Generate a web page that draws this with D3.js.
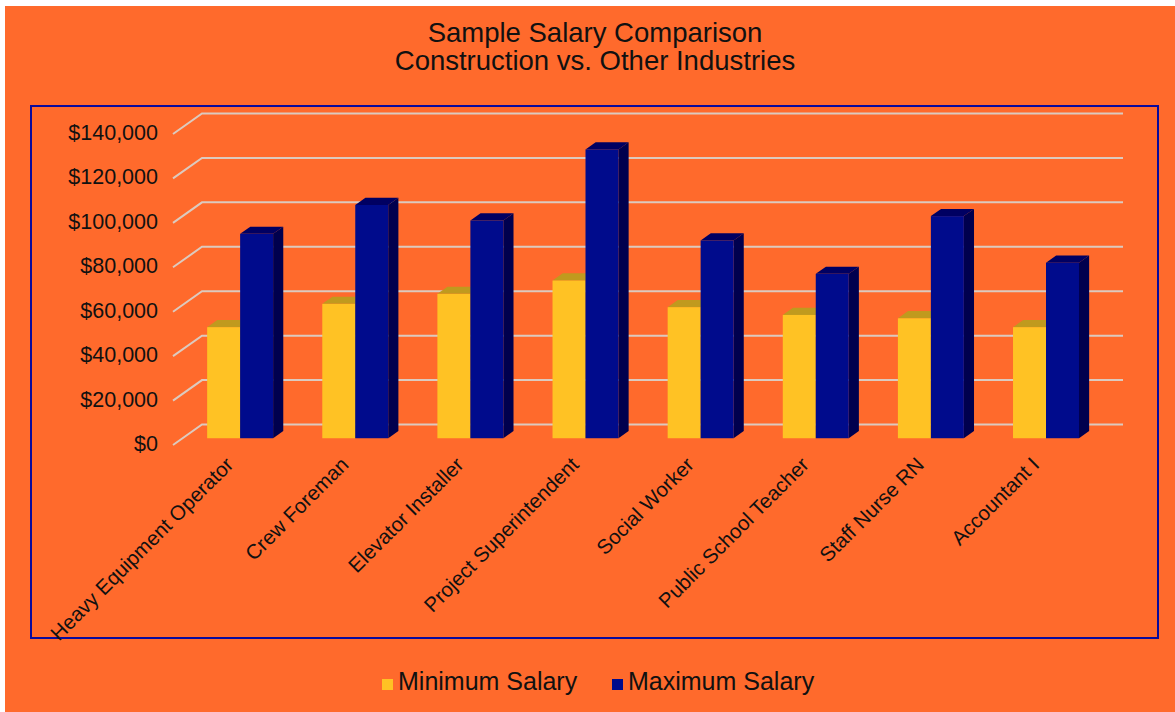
<!DOCTYPE html>
<html>
<head>
<meta charset="utf-8">
<script src="https://cdn.jsdelivr.net/npm/d3@7"></script>
<style>
  html, body { margin: 0; padding: 0; background: #fff; }
  svg { display: block; font-family: "Liberation Sans", Arial, sans-serif; }
</style>
</head>
<body>
<svg id="chart"></svg>
<script>
const categories = ["Heavy Equipment Operator", "Crew Foreman", "Elevator Installer", "Project Superintendent",
  "Social Worker", "Public School Teacher", "Staff Nurse RN", "Accountant I"];
const seriesNames = ["Minimum Salary", "Maximum Salary"];
const minSalary = [50000, 60500, 65000, 71000, 59000, 55500, 54000, 50000];
const maxSalary = [92000, 105000, 98000, 130000, 89000, 74000, 100000, 79000];
const yTicks = [0, 20000, 40000, 60000, 80000, 100000, 120000, 140000];
const titleLines = ["Sample Salary Comparison", "Construction vs. Other Industries"];

const W = 1175, H = 712;
const colors = {
  front: ["#ffc224", "#000b8c"],
  top:   ["#c09a1e", "#000062"],
  side:  ["#b08a10", "#00004e"]
};

const svg = d3.select("#chart").attr("width", W).attr("height", H);

// orange card with thin white edge on top/left
svg.append("rect").attr("x", 5).attr("y", 6).attr("width", W - 5).attr("height", H - 6).attr("fill", "#ff6a2c");

// plot frame
svg.append("rect").attr("x", 31).attr("y", 106).attr("width", 1127).attr("height", 532)
  .attr("fill", "none").attr("stroke", "#0a0a9c").attr("stroke-width", 2);

// title
svg.append("g").selectAll("text").data(titleLines).join("text")
  .attr("x", 595).attr("y", (d, i) => 42 + i * 28)
  .attr("text-anchor", "middle").attr("font-size", 27.5).attr("fill", "#111")
  .text(d => d);

// oblique 3D: depth 0 = front floor edge, depth 1 = back wall
const depth = { dx: 29, dy: -20.5 };
const off = d => [depth.dx * d, depth.dy * d];

const y = d3.scaleLinear().domain([0, 140000]).range([445, 134]);
const x0 = d3.scaleBand().domain(categories).range([173, 1094]).paddingInner(0.427).paddingOuter(0.2135);
const x1 = d3.scaleBand().domain(seriesNames).range([0, x0.bandwidth()]);

// gridlines: short diagonal from the front edge, then along the back wall
const grid = svg.append("g");
yTicks.forEach(t => {
  const [bx, by] = off(1);
  grid.append("polyline")
    .attr("points", [[173, y(t)], [173 + bx, y(t) + by], [1123, y(t) + by]].map(p => p.join(",")).join(" "))
    .attr("fill", "none").attr("stroke", "#dccabf").attr("stroke-width", 2);
});

// y tick labels
const fmt = d3.format("$,.0f");
svg.append("g").selectAll("text").data(yTicks).join("text")
  .attr("x", 158).attr("y", d => y(d) + 6)
  .attr("text-anchor", "end").attr("font-size", 21.5).attr("fill", "#111")
  .text(d => fmt(d));

// bars
const barD0 = 0.33, barD1 = 0.68;
const data = [];
categories.forEach((c, i) => {
  [minSalary[i], maxSalary[i]].forEach((v, s) => data.push({ cat: c, s, v }));
});

const bars = svg.append("g");
data.forEach(d => {
  const [fx, fy] = off(barD0);
  const [bx, by] = off(barD1);
  const xl = x0(d.cat) + x1(seriesNames[d.s]) + fx;
  const xr = xl + x1.bandwidth();
  const yt = y(d.v) + fy;
  const yb = y(0) + fy;
  const ddx = bx - fx, ddy = by - fy;
  const g = bars.append("g");
  g.append("polygon")
    .attr("points", [[xr, yt], [xr + ddx, yt + ddy], [xr + ddx, yb + ddy], [xr, yb]].map(p => p.join(",")).join(" "))
    .attr("fill", colors.side[d.s]);
  g.append("polygon")
    .attr("points", [[xl, yt], [xl + ddx, yt + ddy], [xr + ddx, yt + ddy], [xr, yt]].map(p => p.join(",")).join(" "))
    .attr("fill", colors.top[d.s]);
  g.append("rect")
    .attr("x", xl).attr("y", yt).attr("width", xr - xl).attr("height", yb - yt)
    .attr("fill", colors.front[d.s]);
});

// category labels, rotated
svg.append("g").selectAll("text").data(categories).join("text")
  .attr("transform", d => `translate(${x0(d) + x0.bandwidth() / 2 + 4},466) rotate(-45)`)
  .attr("text-anchor", "end").attr("font-size", 20.5).attr("fill", "#111")
  .text(d => d);

// legend
const legendX = [382, 612];
const legend = svg.append("g").selectAll("g").data(seriesNames).join("g")
  .attr("transform", (d, i) => `translate(${legendX[i]},679)`);
legend.append("rect").attr("width", 11).attr("height", 11).attr("fill", (d, i) => colors.front[i]);
legend.append("text").attr("x", 16).attr("y", 11).attr("font-size", 25).attr("fill", "#111").text(d => d);
</script>
</body>
</html>
